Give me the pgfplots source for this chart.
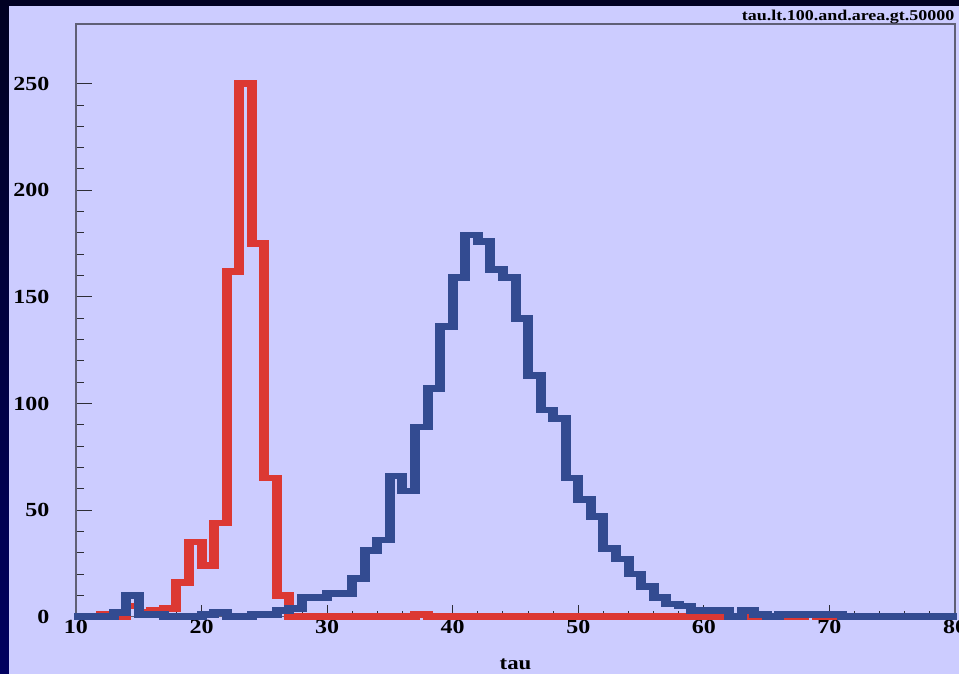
\documentclass[border=0pt]{standalone}
\usepackage{pgfplots}
\usepackage{pgfplotstable}
\pgfplotsset{compat=1.18}
\usepackage{fontspec}
\setmainfont{Liberation Serif}[FakeStretch=1.2]

\definecolor{canvasbg}{RGB}{204,204,255}
\definecolor{slidebg}{RGB}{0,0,34}
\definecolor{slideedge}{RGB}{0,0,96}
\definecolor{histred}{RGB}{220,56,51}
\definecolor{histblue}{RGB}{51,75,145}
\definecolor{framegray}{RGB}{95,95,118}
\definecolor{tickgray}{RGB}{45,45,55}

% tau histograms, one row per 1-unit bin (left edge, entries)
\pgfplotstableread{
x y
10 0
11 0
12 1
13 0
14 5
15 2
16 3
17 4
18 16
19 35
20 24
21 44
22 162
23 250
24 175
25 65
26 10
27 0
28 0
29 0
30 0
31 0
32 0
33 0
34 0
35 0
36 0
37 1
38 0
39 0
40 0
41 0
42 0
43 0
44 0
45 0
46 0
47 0
48 0
49 0
50 0
51 0
52 0
53 0
54 0
55 0
56 0
57 0
58 0
59 0
60 0
61 0
62 0
63 0
64 0
65 0
66 0
67 0
68 1
69 0
70 0
71 0
72 0
73 0
74 0
75 0
76 0
77 0
78 0
79 0
80 0
}\redtau

\pgfplotstableread{
x y
10 0
11 0
12 0
13 2
14 10
15 1
16 1
17 0
18 0
19 0
20 1
21 2
22 0
23 0
24 1
25 1
26 3
27 4
28 9
29 9
30 11
31 11
32 18
33 31
34 36
35 66
36 59
37 89
38 107
39 136
40 159
41 179
42 176
43 163
44 159
45 140
46 113
47 97
48 93
49 65
50 55
51 47
52 32
53 27
54 20
55 14
56 9
57 6
58 5
59 3
60 3
61 3
62 0
63 3
64 1
65 0
66 1
67 1
68 1
69 1
70 1
71 0
72 0
73 0
74 0
75 0
76 0
77 0
78 0
79 0
80 0
}\bluetau

\pgfplotsset{
  hist/.style={const plot, no marks, line width=6.7pt, line join=miter},
}

\begin{document}
\begin{tikzpicture}
  % slide background and canvas
  \fill[slidebg] (0,0) rectangle (959pt,674pt);
  \shade[top color=slidebg, bottom color=slideedge] (0,0) rectangle (9pt,674pt);
  \fill[canvasbg] (9pt,0) rectangle (959pt,668pt);

  \begin{axis}[
    at={(76pt,57.3pt)}, anchor=south west,
    scale only axis, width=879pt, height=592.7pt,
    xmin=10, xmax=80, ymin=0, ymax=278,
    clip=false,
    axis line style={draw=framegray, line width=1.6pt},
    tick pos=left,
    tick align=inside,
    xtick={10,20,...,80}, minor x tick num=4,
    ytick={0,50,...,250}, minor y tick num=4,
    major tick length=12pt, minor tick length=6pt,
    y tick style={/pgfplots/major tick length=16pt, /pgfplots/minor tick length=8pt},
    every tick/.style={tickgray, line width=1pt},
    /pgf/number format/assume math mode=true,
    ticklabel style={font=\fontsize{20}{24}\selectfont\bfseries, black},
    yticklabel style={xshift=-23pt},
    xlabel={tau},
    xlabel style={at={(axis description cs:0.5,0)}, anchor=base, yshift=-53.3pt,
                  font=\fontsize{19}{22}\selectfont\bfseries},
    title={tau.lt.100.and.area.gt.50000},
    title style={at={(axis description cs:1,1)}, anchor=base east, xshift=3pt, yshift=-3pt,
                 font=\fontsize{15}{17}\selectfont\bfseries},
  ]
    \addplot[hist, histred, xshift=-1.65pt] table {\redtau};
    \addplot[hist, histred, xshift=1.65pt] table {\redtau};
    \addplot[hist, histblue, xshift=-1.65pt] table {\bluetau};
    \addplot[hist, histblue, xshift=1.65pt] table {\bluetau};
  \end{axis}

  \pgfresetboundingbox
  \useasboundingbox (0,0) rectangle (959pt,674pt);
\end{tikzpicture}
\end{document}
